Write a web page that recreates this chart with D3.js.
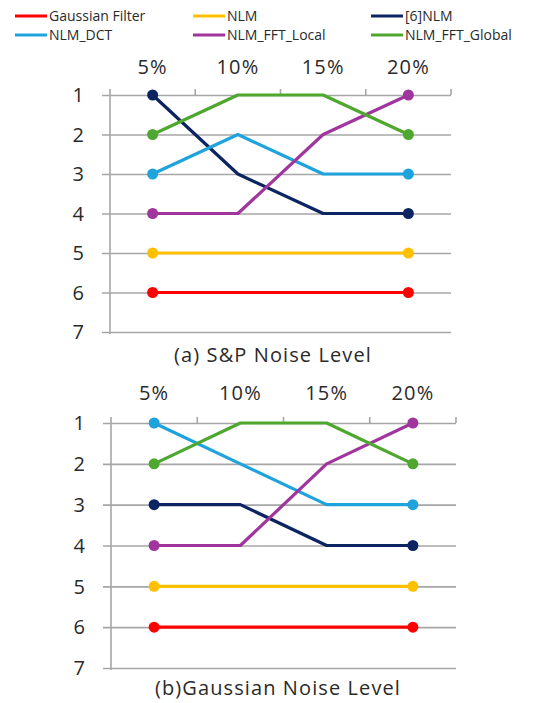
<!DOCTYPE html>
<html>
<head>
<meta charset="utf-8">
<script src="https://cdn.jsdelivr.net/npm/d3@7"></script>
<style>
  html, body { margin: 0; padding: 0; background: #fff; }
  svg { display: block; font-family: "Open Sans", "Noto Sans", sans-serif; }
</style>
</head>
<body>
<svg id="chart" width="547" height="703"></svg>
<script>
// Noise levels on the shared top axis
const noiseLevels = ["5%", "10%", "15%", "20%"];
const rankTicks = [1, 2, 3, 4, 5, 6, 7];

const methods = ["Gaussian Filter", "NLM", "[6]NLM", "NLM_DCT", "NLM_FFT_Local", "NLM_FFT_Global"];
const methodColors = ["#ff0000", "#ffc000", "#0c2461", "#1ea3dc", "#a0359d", "#4ea72e"];

// Ranking of each method at each noise level (1 = best)
const spRanks = {
  "Gaussian Filter": [6, 6, 6, 6],
  "NLM":             [5, 5, 5, 5],
  "[6]NLM":          [1, 3, 4, 4],
  "NLM_DCT":         [3, 2, 3, 3],
  "NLM_FFT_Local":   [4, 4, 2, 1],
  "NLM_FFT_Global":  [2, 1, 1, 2]
};
const gaussianRanks = {
  "Gaussian Filter": [6, 6, 6, 6],
  "NLM":             [5, 5, 5, 5],
  "[6]NLM":          [3, 3, 4, 4],
  "NLM_DCT":         [1, 2, 3, 3],
  "NLM_FFT_Local":   [4, 4, 2, 1],
  "NLM_FFT_Global":  [2, 1, 1, 2]
};

const svg = d3.select("#chart");
const color = d3.scaleOrdinal().domain(methods).range(methodColors);
const textColor = "#2a2a2a";
const gridColor = "#a6a6a6";

// Legend: two rows of three entries
const legendCols = [15, 193, 371];
const legendRows = [16, 35];
const legend = svg.append("g");
methods.forEach((m, i) => {
  const lx = legendCols[i % 3], ly = legendRows[Math.floor(i / 3)];
  legend.append("line")
    .attr("x1", lx).attr("x2", lx + 32).attr("y1", ly).attr("y2", ly)
    .attr("stroke", color(m)).attr("stroke-width", 3);
  legend.append("text")
    .attr("x", lx + 34).attr("y", ly).attr("dy", "0.35em")
    .attr("font-size", 14).attr("fill", textColor)
    .text(m);
});

function drawPanel(cfg) {
  const { left, right, top, bottom, labelY, title, titleX, titleY, ranks } = cfg;
  const g = svg.append("g");

  const x = d3.scaleBand().domain(noiseLevels).range([left, right]).paddingInner(0).paddingOuter(0);
  const y = d3.scaleLinear().domain([1, 7]).range([top, bottom]);

  // Horizontal gridlines with outward ticks on the left
  const yAxis = d3.axisLeft(y).tickValues(rankTicks).tickSize(-(right - left)).tickSizeOuter(0)
    .tickPadding(0).tickFormat("");
  const yg = g.append("g").attr("transform", `translate(${left},0)`).call(yAxis);
  yg.select(".domain").remove();
  yg.selectAll(".tick line")
    .attr("x1", -8).attr("x2", right - left)
    .attr("stroke", gridColor).attr("stroke-width", 1.6);

  // Rank labels
  g.append("g").selectAll("text").data(rankTicks).join("text")
    .attr("x", left - 26).attr("y", d => y(d)).attr("dy", "0.36em")
    .attr("text-anchor", "end").attr("font-size", 20).attr("fill", textColor)
    .text(d => d);

  // Vertical axis line
  g.append("line")
    .attr("x1", left).attr("x2", left).attr("y1", top - 6).attr("y2", bottom + 2)
    .attr("stroke", gridColor).attr("stroke-width", 1.6);

  // Category boundary ticks along the top
  const bounds = noiseLevels.map(d => x(d)).concat([right]);
  g.append("g").selectAll("line").data(bounds.slice(1)).join("line")
    .attr("x1", d => d).attr("x2", d => d).attr("y1", top - 6).attr("y2", top)
    .attr("stroke", gridColor).attr("stroke-width", 1.6);

  // Noise level labels, centred in each band
  const xAxis = d3.axisTop(x).tickSize(0).tickPadding(0);
  const xg = g.append("g").attr("transform", `translate(0,${labelY})`).call(xAxis);
  xg.select(".domain").remove();
  xg.selectAll(".tick text")
    .attr("font-size", 20).attr("fill", textColor).attr("letter-spacing", 1.2)
    .attr("font-family", "\"Open Sans\", \"Noto Sans\", sans-serif")
    .attr("dy", "0.36em").attr("y", 0);

  const cx = d => x(d) + x.bandwidth() / 2;
  const line = d3.line().x(d => cx(d.level)).y(d => y(d.rank));

  methods.forEach(m => {
    const pts = noiseLevels.map((lv, i) => ({ level: lv, rank: ranks[m][i] }));
    g.append("path")
      .datum(pts)
      .attr("fill", "none").attr("stroke", color(m)).attr("stroke-width", 3.2)
      .attr("stroke-linejoin", "round")
      .attr("d", line);
    // Markers at the first and last noise level
    g.append("g").selectAll("circle").data([pts[0], pts[pts.length - 1]]).join("circle")
      .attr("cx", d => cx(d.level)).attr("cy", d => y(d.rank)).attr("r", 5.5)
      .attr("fill", color(m));
  });

  g.append("text")
    .attr("x", titleX).attr("y", titleY).attr("text-anchor", "middle")
    .attr("font-size", 20).attr("letter-spacing", 1.1).attr("fill", textColor)
    .text(title);
}

drawPanel({
  left: 110, right: 451, top: 95, bottom: 332, labelY: 67,
  title: "(a) S&P Noise Level", titleX: 273, titleY: 362, ranks: spRanks
});
drawPanel({
  left: 111, right: 456, top: 423, bottom: 668, labelY: 393,
  title: "(b)Gaussian Noise Level", titleX: 278, titleY: 695, ranks: gaussianRanks
});
</script>
</body>
</html>
